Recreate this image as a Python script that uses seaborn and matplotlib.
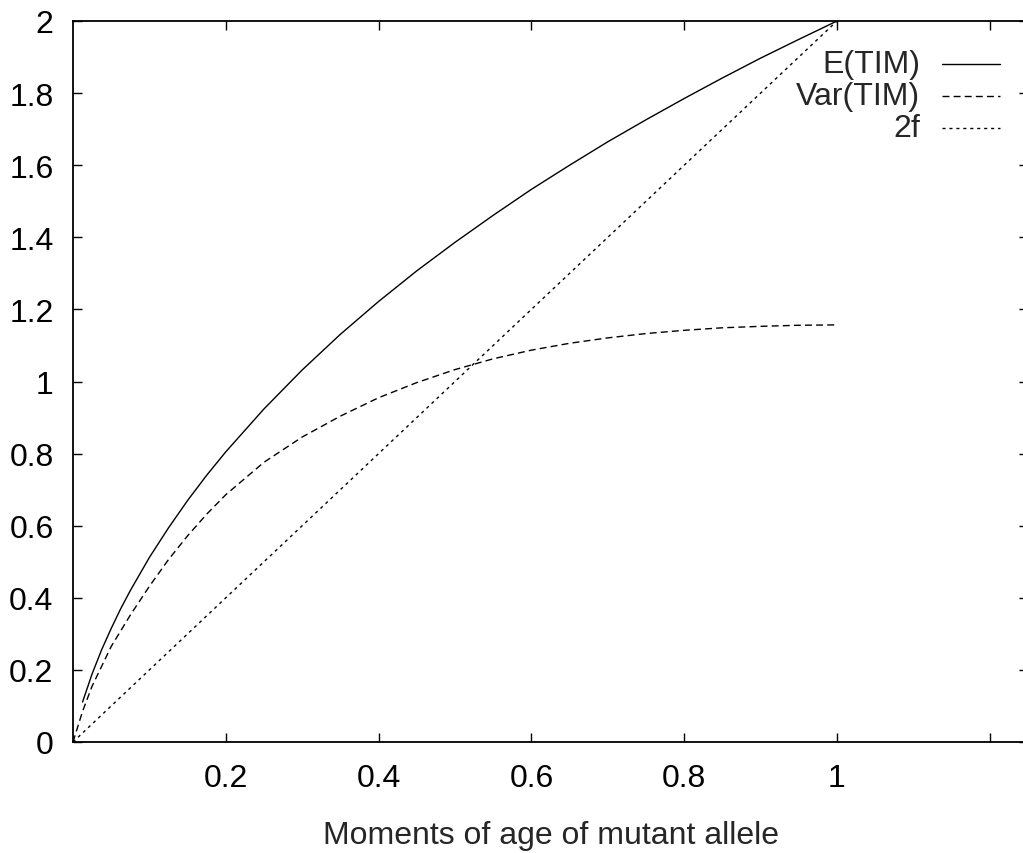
import numpy as np
import pandas as pd
import seaborn as sns
import matplotlib
matplotlib.use('Agg')
import matplotlib.pyplot as plt

# values
f_mean = [0.0125, 0.025, 0.0375, 0.05, 0.0625, 0.075, 0.1, 0.125, 0.15, 0.175, 0.2, 0.25,
          0.3, 0.35, 0.4, 0.45, 0.5, 0.55, 0.6, 0.65, 0.7, 0.75, 0.8, 0.85, 0.9, 0.95, 1.0]
e_tim = [0.111, 0.189, 0.256, 0.315, 0.370, 0.420, 0.512, 0.594, 0.670, 0.740, 0.805, 0.924,
         1.032, 1.131, 1.222, 1.307, 1.386, 1.461, 1.533, 1.600, 1.665, 1.726, 1.785, 1.842,
         1.897, 1.949, 2.0]

f_var = [0.0, 0.0125, 0.025, 0.05, 0.075, 0.1, 0.125, 0.15, 0.175, 0.2, 0.25, 0.3, 0.35,
         0.4, 0.45, 0.5, 0.55, 0.6, 0.65, 0.7, 0.75, 0.8, 0.85, 0.9, 0.95, 1.0]
var_tim = [0.0, 0.085, 0.155, 0.265, 0.352, 0.432, 0.506, 0.572, 0.632, 0.686, 0.776, 0.846,
           0.904, 0.955, 0.997, 1.033, 1.063, 1.087, 1.106, 1.121, 1.133, 1.142, 1.149,
           1.153, 1.156, 1.157]

f_line = [0.0, 1.0]
two_f = [0.0, 2.0]

labels = ['E(TIM)', 'Var(TIM)', '2f']
x_ticks = [0.2, 0.4, 0.6, 0.8, 1.0, 1.2]
x_ticklabels = ['0.2', '0.4', '0.6', '0.8', '1', '']
y_ticks = [0, 0.2, 0.4, 0.6, 0.8, 1, 1.2, 1.4, 1.6, 1.8, 2]
y_ticklabels = ['0', '0.2', '0.4', '0.6', '0.8', '1', '1.2', '1.4', '1.6', '1.8', '2']

sns.set_style('ticks')
plt.rcParams['font.family'] = ['Liberation Sans', 'DejaVu Sans']
plt.rcParams['font.size'] = 23

fig = plt.figure(figsize=(10.23, 8.54), dpi=100)
ax = fig.add_axes([73 / 1023, 111 / 854, 955 / 1023, 721 / 854])

styles = ['-', (0, (5, 3)), (0, (2.2, 2.8))]
df_e = pd.DataFrame({'f': f_mean, 'v': e_tim})
df_v = pd.DataFrame({'f': f_var, 'v': var_tim})
df_2 = pd.DataFrame({'f': f_line, 'v': two_f})
for d, ls in zip([df_e, df_v, df_2], styles):
    sns.lineplot(data=d, x='f', y='v', ax=ax, color='black', lw=1.0,
                 linestyle=ls, estimator=None, sort=False)

ax.set_xlim(0, 1.25)
ax.set_ylim(0, 2)
ax.set_xticks(x_ticks)
ax.set_xticklabels(x_ticklabels)
ax.set_yticks(y_ticks)
ax.set_yticklabels(y_ticklabels)
ax.tick_params(axis='both', direction='in', length=6.5, width=1.0, labelsize=23,
               top=True, right=True, color='black', labelcolor='black')
ax.tick_params(axis='x', pad=15)
ax.tick_params(axis='y', pad=14)
for s in ax.spines.values():
    s.set_linewidth(1.3)
    s.set_color('black')
ax.set_xlabel('')
ax.set_ylabel('')

# gnuplot-style key, text right aligned
ys = [0.940, 0.896, 0.852]
for lab, ls, yy in zip(labels, styles, ys):
    ax.text(0.887, yy, lab, transform=ax.transAxes, ha='right', va='center', fontsize=23)
    ax.plot([0.910, 0.971], [yy, yy], transform=ax.transAxes, color='black',
            lw=1.0, linestyle=ls)

fig.text(551 / 1023, 1 - 844 / 854, 'Moments of age of mutant allele',
         ha='center', va='baseline', fontsize=23)

fig.savefig('out.png', dpi=100)
plt.close()
